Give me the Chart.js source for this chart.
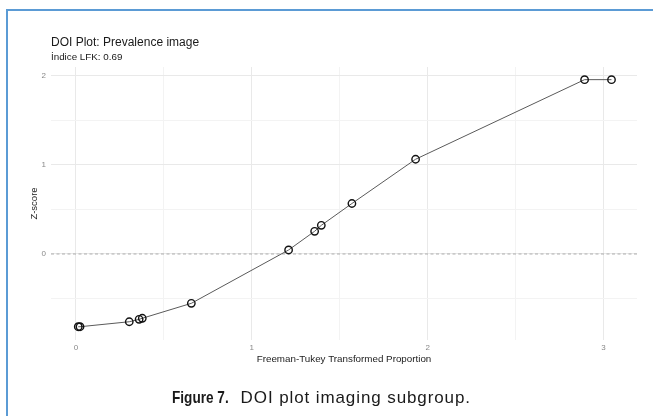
<!DOCTYPE html>
<html>
<head>
<meta charset="utf-8">
<script src="https://cdn.jsdelivr.net/npm/chart.js@4/dist/chart.umd.min.js"></script>
<style>
  html, body { margin: 0; padding: 0; background: #ffffff; }
  body { width: 653px; height: 416px; position: relative; overflow: hidden;
         font-family: "Liberation Sans", Arial, sans-serif; }
  #frameTop  { position: absolute; left: 6px; top: 9px; width: 647px; height: 2px; background: #5b9bd5; }
  #frameLeft { position: absolute; left: 6px; top: 9px; width: 2px; height: 407px; background: #5b9bd5; }
  #plot { position: absolute; left: 0; top: 0; }
  .plotTitle { position: absolute; left: 51px; top: 35px; font-size: 12px; line-height: 14px; color: #1a1a1a; white-space: nowrap; }
  .plotSubtitle { position: absolute; left: 51px; top: 51px; font-size: 9.8px; line-height: 11px; color: #1a1a1a; white-space: nowrap; }
  .caption { position: absolute; left: 172px; top: 388px; font-size: 17px; line-height: 19px; color: #1a1a1a; white-space: nowrap; }
  .caption b { display: inline-block; transform: scaleX(0.8); transform-origin: left center;
               font-weight: bold; margin-right: -7px; letter-spacing: 0; }
  .caption span { letter-spacing: 0.9px; }
</style>
</head>
<body>
<div id="frameTop"></div>
<div id="frameLeft"></div>
<canvas id="plot" width="653" height="416"></canvas>
<div class="plotTitle">DOI Plot: Prevalence image</div>
<div class="plotSubtitle">İndice LFK: 0.69</div>
<div class="caption"><b>Figure 7.</b> <span>DOI plot imaging subgroup.</span></div>

<script>
// Freeman-Tukey transformed proportion of each study (x) and its Z-score (y)
const ftProportion = [0.013, 0.023, 0.303, 0.359, 0.377, 0.656, 1.209, 1.357, 1.395, 1.569, 1.931, 2.892, 3.045];
const zScore       = [-0.817, -0.817, -0.761, -0.734, -0.722, -0.554, 0.045, 0.255, 0.322, 0.567, 1.064, 1.958, 1.958];

// Axis breaks: whole numbers are labelled, halves only carry a minor grid line
const xTickValues = [0, 0.5, 1, 1.5, 2, 2.5, 3];
const yTickValues = [-0.5, 0, 0.5, 1, 1.5, 2];
const xRange = [-0.142, 3.19];
const yRange = [-0.966, 2.10];
const referenceZ = 0;

const points = ftProportion.map((x, i) => ({ x: x, y: zScore[i] }));

const isMajor = v => Math.abs(v - Math.round(v)) < 1e-9;
const gridColour = ctx => (ctx.tick && isMajor(ctx.tick.value)) ? '#e9e9e9' : '#f3f3f3';

// Dashed horizontal reference line at Z = 0
const referenceLine = {
  id: 'referenceLine',
  beforeDatasetsDraw(chart) {
    const { ctx, chartArea, scales } = chart;
    const y = scales.y.getPixelForValue(referenceZ);
    ctx.save();
    ctx.strokeStyle = '#9a9a9a';
    ctx.lineWidth = 0.8;
    ctx.setLineDash([3, 2.5]);
    ctx.beginPath();
    ctx.moveTo(chartArea.left, y);
    ctx.lineTo(chartArea.right, y);
    ctx.stroke();
    ctx.restore();
  }
};

new Chart(document.getElementById('plot'), {
  type: 'scatter',
  data: {
    datasets: [{
      data: points,
      showLine: true,
      borderColor: '#5a5a5a',
      borderWidth: 1,
      pointRadius: 3.7,
      pointBorderWidth: 1.4,
      pointBorderColor: '#111111',
      pointBackgroundColor: 'rgba(0,0,0,0)'
    }]
  },
  plugins: [referenceLine],
  options: {
    responsive: false,
    devicePixelRatio: 1,
    animation: false,
    layout: { padding: { left: 27, right: 16, top: 67, bottom: 46 } },
    plugins: { legend: { display: false }, tooltip: { enabled: false } },
    scales: {
      x: {
        type: 'linear',
        min: xRange[0],
        max: xRange[1],
        afterBuildTicks: s => { s.ticks = xTickValues.map(v => ({ value: v })); },
        afterFit: s => { s.height = 30; },
        border: { display: false },
        grid: { color: gridColour, lineWidth: 1, drawTicks: false },
        ticks: {
          autoSkip: false, maxRotation: 0, padding: 3,
          color: '#888888', font: { family: 'Liberation Sans', size: 8 },
          callback: v => isMajor(v) ? String(Math.round(v)) : ''
        },
        title: {
          display: true, text: 'Freeman-Tukey Transformed Proportion',
          color: '#222222', font: { family: 'Liberation Sans', size: 9.8 },
          padding: { top: 0, bottom: 5 }
        }
      },
      y: {
        type: 'linear',
        min: yRange[0],
        max: yRange[1],
        afterBuildTicks: s => { s.ticks = yTickValues.map(v => ({ value: v })); },
        afterFit: s => { s.width = 24; },
        border: { display: false },
        grid: { color: gridColour, lineWidth: 1, drawTicks: false },
        ticks: {
          autoSkip: false, padding: 5,
          color: '#888888', font: { family: 'Liberation Sans', size: 8 },
          callback: v => isMajor(v) ? String(Math.round(v)) : ''
        },
        title: {
          display: true, text: 'Z-score',
          color: '#222222', font: { family: 'Liberation Sans', size: 9.5 },
          padding: { top: 2, bottom: 0 }
        }
      }
    }
  }
});
</script>
</body>
</html>
